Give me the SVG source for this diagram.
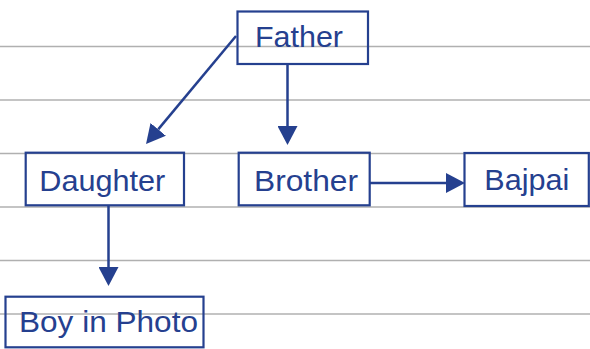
<svg xmlns="http://www.w3.org/2000/svg" width="590" height="349" viewBox="0 0 590 349">
<defs>
<style>
.rule{stroke:#b0b0b0;stroke-width:1.5}
.box{fill:none;stroke:#25408f;stroke-width:2.2}
.lbl{font-family:"Liberation Sans",Arial,sans-serif;font-size:30px;fill:#25408f}
.conn{stroke:#25408f;stroke-width:2.5;fill:none}
</style>
<marker id="ah" markerUnits="userSpaceOnUse" viewBox="0 -10 19 20" refX="0" refY="0" markerWidth="19" markerHeight="20" orient="auto">
<path d="M0,-10 L19,0 L0,10 z" fill="#25408f"/>
</marker>
</defs>
<rect width="590" height="349" fill="#ffffff"/>
<g id="rules">
<line class="rule" x1="0" y1="46.5" x2="590" y2="46.5"/>
<line class="rule" x1="0" y1="100" x2="590" y2="100"/>
<line class="rule" x1="0" y1="153.5" x2="590" y2="153.5"/>
<line class="rule" x1="0" y1="207" x2="590" y2="207"/>
<line class="rule" x1="0" y1="260.5" x2="590" y2="260.5"/>
<line class="rule" x1="0" y1="314" x2="590" y2="314"/>
</g>
<g id="connectors">
<line class="conn" x1="236" y1="36" x2="158.2" y2="129.4" marker-end="url(#ah)"/>
<line class="conn" x1="287.5" y1="64" x2="287.5" y2="126" marker-end="url(#ah)"/>
<line class="conn" x1="108.5" y1="205" x2="108.5" y2="267" marker-end="url(#ah)"/>
<line class="conn" x1="370" y1="183" x2="446" y2="183" marker-end="url(#ah)"/>
</g>
<g id="father">
<rect class="box" x="237.5" y="11.5" width="130.5" height="52.5"/>
<text class="lbl" x="255" y="46.7" textLength="88" lengthAdjust="spacingAndGlyphs">Father</text>
</g>
<g id="daughter">
<rect class="box" x="25.7" y="152.7" width="158.3" height="52.6"/>
<text class="lbl" x="39.3" y="190.7" textLength="126" lengthAdjust="spacingAndGlyphs">Daughter</text>
</g>
<g id="brother">
<rect class="box" x="238.7" y="152.7" width="131" height="52.6"/>
<text class="lbl" x="254" y="190.7" textLength="104" lengthAdjust="spacingAndGlyphs">Brother</text>
</g>
<g id="bajpai">
<rect class="box" x="464.5" y="153" width="124.3" height="53"/>
<text class="lbl" x="484.3" y="190" textLength="85" lengthAdjust="spacingAndGlyphs">Bajpai</text>
</g>
<g id="boy">
<rect class="box" x="5.5" y="296.7" width="198" height="50.6"/>
<text class="lbl" x="19" y="331.5" textLength="179" lengthAdjust="spacingAndGlyphs">Boy in Photo</text>
</g>
</svg>
